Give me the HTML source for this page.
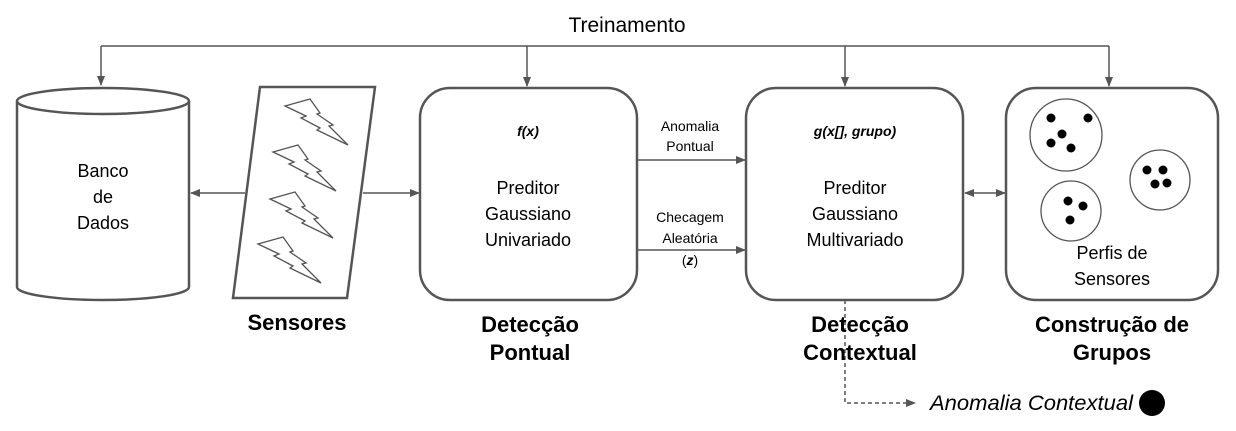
<!DOCTYPE html>
<html><head><meta charset="utf-8"><style>
body{margin:0;background:#fff;}
svg{display:block;font-family:"Liberation Sans",sans-serif;}
</style></head><body>
<svg width="1236" height="431" viewBox="0 0 1236 431">
<defs>
<marker id="a" markerWidth="10" markerHeight="10" refX="9" refY="5" orient="auto" markerUnits="userSpaceOnUse"><path d="M0,1 L10,5 L0,9 Z" fill="#555"/></marker>
<marker id="as" markerWidth="10" markerHeight="10" refX="1" refY="5" orient="auto" markerUnits="userSpaceOnUse"><path d="M10,1 L0,5 L10,9 Z" fill="#555"/></marker>
<g id="bolt"><path d="M0,7 L25,0 L35,14 L32,15 L48,26 L44,27 L63,46 L32,31 L35,29 L16,19 L21,17 Z" fill="#fff" stroke="#555" stroke-width="1.3"/></g>
</defs>
<g stroke="#555" stroke-width="1.5" fill="none">
<path d="M101,46 H1109"/>
<path d="M101,46 V85" marker-end="url(#a)"/>
<path d="M527,46 V86" marker-end="url(#a)"/>
<path d="M845,46 V86" marker-end="url(#a)"/>
<path d="M1109,46 V86" marker-end="url(#a)"/>
<path d="M245,193 H191" marker-end="url(#a)"/>
<path d="M363,193 H419" marker-end="url(#a)"/>
<path d="M637,160 H745" marker-end="url(#a)"/>
<path d="M637,250 H745" marker-end="url(#a)"/>
<path d="M965,193 H1005" marker-end="url(#a)" marker-start="url(#as)"/>
<path d="M845,300 V403 H915" stroke-dasharray="4,3" marker-end="url(#a)"/>
</g>
<g stroke="#555" stroke-width="2.5" fill="#fff">
<path d="M17,101 V287 A86,13 0 0 0 189,287 V101"/>
<ellipse cx="103" cy="101" rx="86" ry="13"/>
<path d="M260,87 L375,87 L347,298 L233,298 Z"/>
<rect x="420" y="88" width="217" height="212" rx="30"/>
<rect x="746" y="88" width="217" height="212" rx="30"/>
<rect x="1006" y="88" width="212" height="212" rx="30"/>
</g>
<use href="#bolt" x="285" y="99"/>
<use href="#bolt" x="273" y="145"/>
<use href="#bolt" x="270" y="192"/>
<use href="#bolt" x="258" y="237"/>
<g stroke="#555" stroke-width="1.3" fill="none">
<circle cx="1066" cy="135" r="36"/>
<circle cx="1160" cy="180" r="30"/>
<circle cx="1071" cy="211" r="30"/>
</g>
<g fill="#000">
<circle cx="1051" cy="118" r="4.5"/><circle cx="1088" cy="118" r="4.5"/><circle cx="1062" cy="134" r="4.5"/><circle cx="1051" cy="143" r="4.5"/><circle cx="1071" cy="148" r="4.5"/>
<circle cx="1147" cy="170" r="4.5"/><circle cx="1163" cy="170" r="4.5"/><circle cx="1155" cy="184" r="4.5"/><circle cx="1167" cy="183" r="4.5"/>
<circle cx="1068" cy="201" r="4.5"/><circle cx="1083" cy="206" r="4.5"/><circle cx="1070" cy="220" r="4.5"/>
<circle cx="1152" cy="403" r="13"/>
</g>
<g text-anchor="middle" fill="#000">
<text x="627" y="32" font-size="21">Treinamento</text>
<text x="103" y="177" font-size="18">Banco</text>
<text x="103" y="203" font-size="18">de</text>
<text x="103" y="229" font-size="18">Dados</text>
<text x="528" y="136" font-size="14" font-weight="bold" font-style="italic">f(x)</text>
<text x="528" y="194" font-size="18">Preditor</text>
<text x="528" y="220" font-size="18">Gaussiano</text>
<text x="528" y="246" font-size="18">Univariado</text>
<text x="855" y="136" font-size="14" font-weight="bold" font-style="italic">g(x[], grupo)</text>
<text x="855" y="194" font-size="18">Preditor</text>
<text x="855" y="220" font-size="18">Gaussiano</text>
<text x="855" y="246" font-size="18">Multivariado</text>
<text x="1112" y="259" font-size="18">Perfis de</text>
<text x="1112" y="285" font-size="18">Sensores</text>
<text x="690" y="131" font-size="14">Anomalia</text>
<text x="690" y="151" font-size="14">Pontual</text>
<text x="690" y="222" font-size="14">Checagem</text>
<text x="690" y="243" font-size="14">Aleatória</text>
<text x="690" y="265" font-size="14">(<tspan font-style="italic" font-weight="bold">z</tspan>)</text>
<g font-size="22" font-weight="bold">
<text x="297" y="330">Sensores</text>
<text x="530" y="332">Detecção</text>
<text x="530" y="360">Pontual</text>
<text x="860" y="332">Detecção</text>
<text x="860" y="360">Contextual</text>
<text x="1112" y="332">Construção de</text>
<text x="1112" y="360">Grupos</text>
</g>
</g>
<text x="930" y="410" font-size="21" font-style="italic" textLength="203" lengthAdjust="spacingAndGlyphs">Anomalia Contextual</text>
</svg>
</body></html>
